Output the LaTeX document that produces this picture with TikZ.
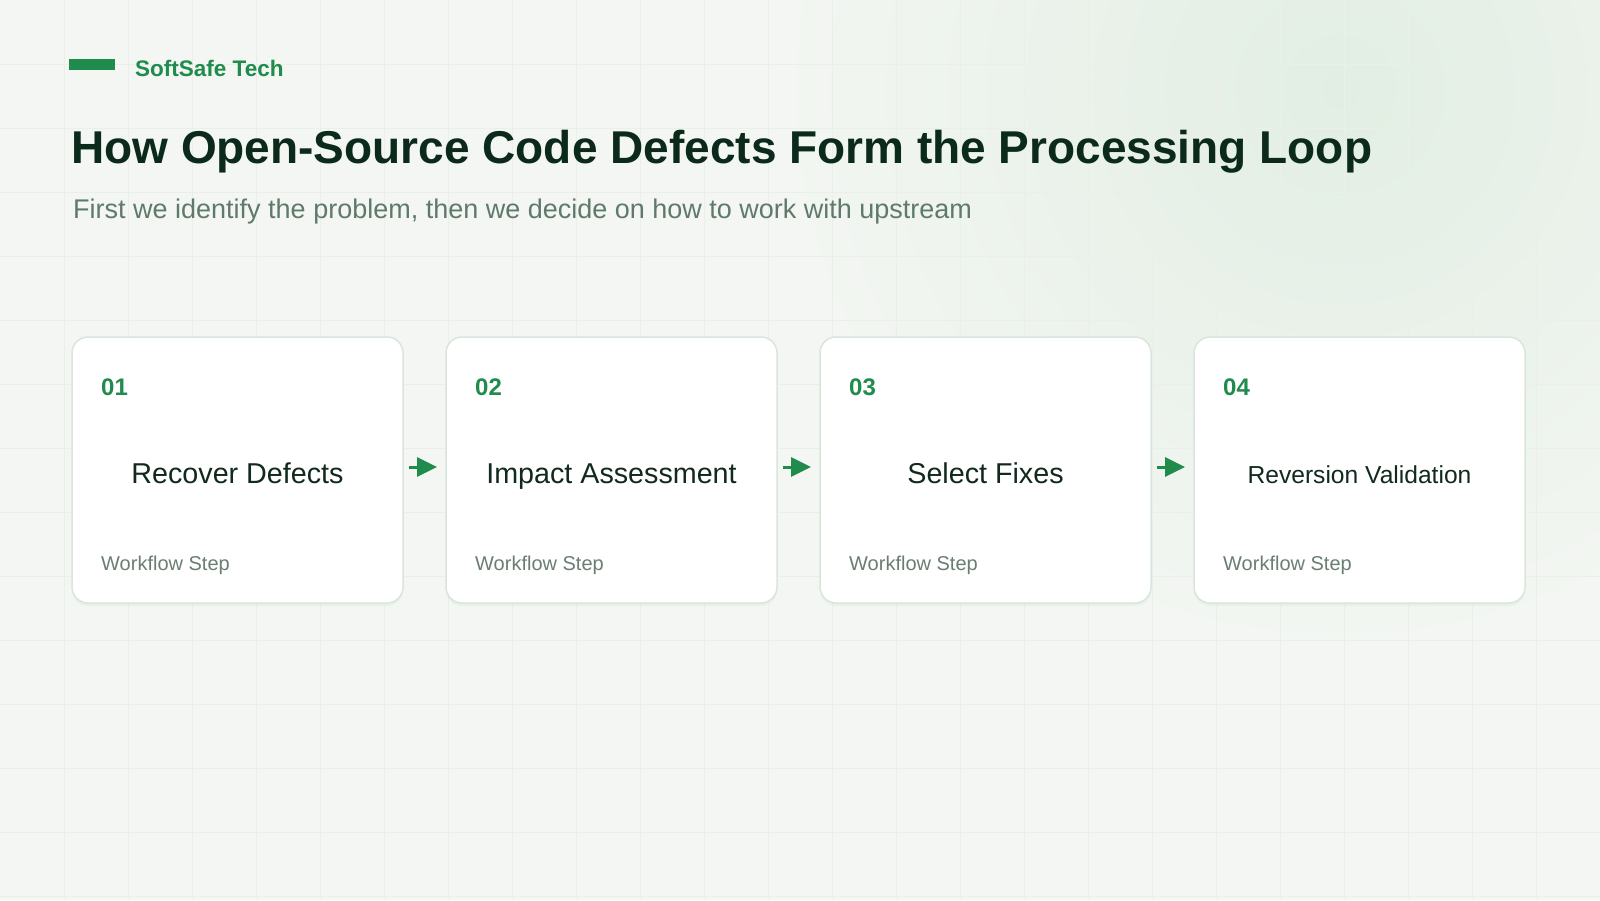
\documentclass[tikz,border=0pt]{standalone}
\usepackage{fontspec}
\setmainfont{Liberation Sans}
\usetikzlibrary{arrows.meta,calc}
\definecolor{bgc}{HTML}{F3F6F2}
\definecolor{glowc}{HTML}{E2EEE3}
\definecolor{gridc}{HTML}{EAEFEA}
\definecolor{brand}{HTML}{1F8B4C}
\definecolor{titlec}{HTML}{0C2A1B}
\definecolor{subc}{HTML}{5F7A6B}
\definecolor{cardtext}{HTML}{112A1D}
\definecolor{stepc}{HTML}{6A7E72}
\definecolor{cardborder}{HTML}{DAE5DC}
\tikzset{
  card/.style={draw=cardborder, line width=1.5pt, fill=white, rounded corners=16pt,
    minimum width=331pt, minimum height=266pt, inner sep=0pt, outer sep=0pt,
    anchor=north west},
  numtext/.style={anchor=base west, inner sep=0pt, text=brand, font=\fontsize{24}{28}\selectfont\bfseries},
  cardtitle/.style={anchor=base, inner sep=0pt, text=cardtext},
  steptext/.style={anchor=base west, inner sep=0pt, text=stepc, font=\fontsize{20}{24}\selectfont},
  flow/.style={draw=brand, line width=3pt, -{Triangle[length=20pt,width=19pt]}, shorten >=0pt},
}
\begin{document}
\begin{tikzpicture}[x=1pt,y=-1pt]
\useasboundingbox (0,0) rectangle (1600,900);
% background
\fill[bgc] (0,0) rectangle (1600,900);
\begin{scope}
\clip (0,0) rectangle (1600,900);
\shade[inner color=glowc, outer color=bgc] (1340,90) circle (560);
\foreach \i in {64,128,...,1599} \draw[gridc, line width=0.7pt] (\i,0) -- (\i,900);
\foreach \j in {64,128,...,899} \draw[gridc, line width=0.7pt] (0,\j) -- (1600,\j);
\end{scope}
% header
\fill[brand] (69,59) rectangle (115,70);
\node[anchor=base west, inner sep=0pt, text=brand, font=\fontsize{22.5}{26}\selectfont\bfseries] (brandname) at (135,76) {SoftSafe Tech};
\node[anchor=base west, inner sep=0pt, text=titlec, font=\fontsize{46}{54}\selectfont\bfseries] (title) at (71,163) {How Open-Source Code Defects Form the Processing Loop};
\node[anchor=base west, inner sep=0pt, text=subc, font=\fontsize{27}{32}\selectfont] (subtitle) at (73,218) {First we identify the problem, then we decide on how to work with upstream};
% cards
\foreach \k/\num/\lab/\fs in {0/01/Recover Defects/28.7, 1/02/Impact Assessment/28.7, 2/03/Select Fixes/28.7, 3/04/Reversion Validation/24.6}{
  \fill[black!25!green!40, opacity=0.12, rounded corners=16pt] ($(72+374*\k,339)$) rectangle ++(331,267);
  \node[card] (card\k) at ($(72+374*\k,337)$) {};
  \node[numtext] (num\k) at ($(card\k.north west)+(29,58)$) {\num};
  \node[cardtitle, font=\fontsize{\fs}{34}\selectfont] (lab\k) at ($(card\k.north)+(0,146)$) {\lab};
  \node[steptext] (step\k) at ($(card\k.north west)+(29,233)$) {Workflow Step};
}
% arrows
\foreach \a/\b in {0/1,1/2,2/3}{
  \coordinate (s\a) at ($(card\a.east)+(6,-3)$);
  \coordinate (t\a) at ($(card\b.west)+(-9,-3)$);
  \draw[flow] (s\a) -- (t\a);
}
\end{tikzpicture}
\end{document}
